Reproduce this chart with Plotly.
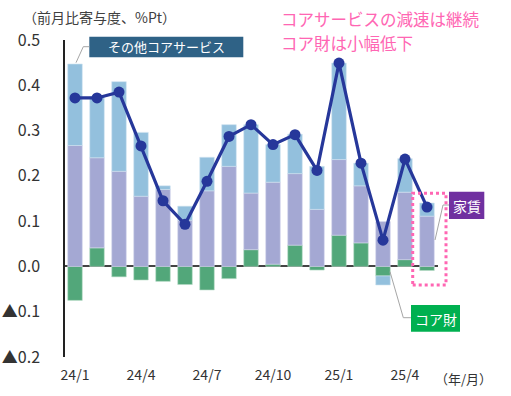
import plotly.graph_objects as go

months = ["24/1","24/2","24/3","24/4","24/5","24/6","24/7","24/8","24/9",
          "24/10","24/11","24/12","25/1","25/2","25/3","25/4","25/5"]
core_goods = [-0.075, 0.041, -0.023, -0.030, -0.033, -0.040, -0.052, -0.027, 0.037,
              0.005, 0.047, -0.008, 0.069, 0.052, -0.021, 0.015, -0.009]
rent = [0.267, 0.199, 0.210, 0.155, 0.170, 0.102, 0.167, 0.221, 0.125,
        0.181, 0.158, 0.126, 0.167, 0.126, 0.099, 0.149, 0.111]
other_services = [0.180, 0.135, 0.198, 0.141, 0.008, 0.031, 0.074, 0.092, 0.151,
                  0.083, 0.087, 0.095, 0.213, 0.050, -0.020, 0.074, 0.029]
total = [0.372, 0.372, 0.385, 0.266, 0.145, 0.093, 0.188, 0.287, 0.313,
         0.269, 0.291, 0.212, 0.449, 0.228, 0.058, 0.237, 0.131]
x_tick_labels = ["24/1", "24/4", "24/7", "24/10", "25/1", "25/4"]
y_tick_vals = [-0.2, -0.1, 0.0, 0.1, 0.2, 0.3, 0.4, 0.5]
y_tick_text = ["▲0.2", "▲0.1", "0.0", "0.1", "0.2", "0.3", "0.4", "0.5"]

FONT = "Noto Sans CJK JP"
W, H = 511, 396
L, R, T, B = 65, 438, 40, 357  # plot area in pixels

def px(x):
    return (x - L) / (R - L)

def py(y):
    return (B - y) / (B - T)

idx = list(range(len(months)))
tick_idx = [months.index(m) for m in x_tick_labels]

fig = go.Figure()
fig.add_bar(x=idx, y=core_goods, name="コア財", marker=dict(color="#52a77a", line=dict(width=0.6, color="#b9dcc7")), width=0.66)
fig.add_bar(x=idx, y=rent, name="家賃", marker=dict(color="#a4a8d3", line=dict(width=0.6, color="#d3d5ec")), width=0.66)
fig.add_bar(x=idx, y=other_services, name="その他コアサービス", marker=dict(color="#93c0dd", line=dict(width=0.6, color="#cfe3f0")), width=0.66)
fig.add_scatter(x=idx, y=total, mode="lines+markers", name="コア",
                line=dict(color="#26379a", width=3.2),
                marker=dict(color="#26379a", size=11))

shapes = []
def box(x0, y0, x1, y1, color):
    shapes.append(dict(type="rect", xref="paper", yref="paper",
                       x0=px(x0), x1=px(x1), y0=py(y1), y1=py(y0),
                       fillcolor=color, line=dict(width=0), layer="above"))

def leader(points):
    path = "M " + " L ".join(f"{px(a)},{py(b)}" for a, b in points)
    shapes.append(dict(type="path", xref="paper", yref="paper", path=path,
                       line=dict(color="#a6a6a6", width=1), layer="above"))

box(89.3, 36.7, 243.3, 57.3, "#2f6286")
box(449, 191.7, 484.3, 219, "#7030a0")
box(411, 305, 460, 331.7, "#00b050")
leader([(89.3, 46.7), (83.3, 46.7), (76, 62.7)])
leader([(449, 205), (443, 205), (435, 240)])
leader([(390, 271.7), (403.3, 317.7), (411, 317.7)])
shapes.append(dict(type="rect", xref="paper", yref="paper",
                   x0=px(412.7), x1=px(446), y0=py(285), y1=py(193.3),
                   line=dict(color="#ff66b3", width=3, dash="dot"), layer="above"))

annotations = []
def text(x, y, s, size, color, xanchor="center"):
    annotations.append(dict(xref="paper", yref="paper", x=px(x), y=py(y), text=s,
                            showarrow=False, xanchor=xanchor, yanchor="middle",
                            align="left",
                            font=dict(family=FONT, size=size, color=color)))

text((89.3 + 243.3) / 2, 47, "その他コアサービス", 13, "white")
text((449 + 484.3) / 2, 205.5, "家賃", 14, "white")
text((411 + 460) / 2, 318.5, "コア財", 14, "white")
text(21, 17, "（前月比寄与度、%Pt）", 14, "#404040", "left")
text(279, 19, "コアサービスの減速は継続", 16.5, "#ff66b3", "left")
text(279, 43, "コア財は小幅低下", 16.5, "#ff66b3", "left")
text(433, 378, "（年/月）", 13, "#333333", "left")

fig.update_layout(
    width=W, height=H,
    margin=dict(l=L, r=W - R, t=T, b=H - B, pad=0, autoexpand=False),
    paper_bgcolor="white", plot_bgcolor="white",
    barmode="relative", bargap=0.3,
    showlegend=False,
    font=dict(family=FONT, color="#333333"),
    shapes=shapes, annotations=annotations,
    xaxis=dict(range=[-0.455, 16.5], tickvals=tick_idx, ticktext=x_tick_labels,
               showgrid=False, zeroline=False, showline=False, automargin=False,
               ticks="outside", ticklen=5, tickcolor="rgba(0,0,0,0)",
               tickfont=dict(family=FONT, size=14, color="#333333")),
    yaxis=dict(range=[-0.2, 0.5], tickvals=y_tick_vals, ticktext=y_tick_text,
               showgrid=False, zeroline=True, zerolinecolor="#444444", zerolinewidth=1.5,
               showline=True, linecolor="#222222", linewidth=1.5, automargin=False,
               ticks="outside", ticklen=20, tickcolor="rgba(0,0,0,0)",
               tickfont=dict(family=FONT, size=16, color="#333333")),
)

fig.write_html("out.html", config={"displayModeBar": False},
               post_script="document.body.style.margin='0';document.body.style.overflow='hidden';")
